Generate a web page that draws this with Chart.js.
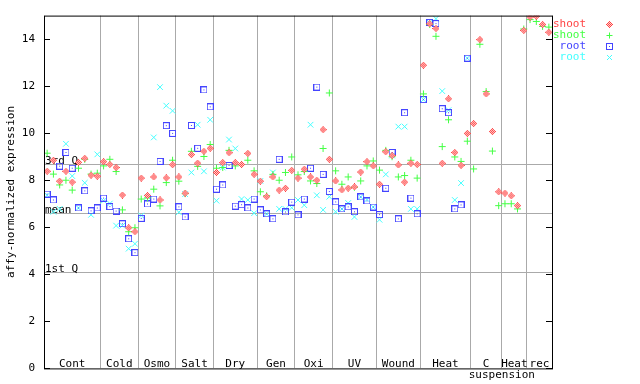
<!DOCTYPE html>
<html>
<head>
<meta charset="utf-8">
<title>affy-normalized expression</title>
<script src="https://cdn.jsdelivr.net/npm/chart.js@4.4.1/dist/chart.umd.min.js"></script>
<style>
html, body { margin: 0; padding: 0; background: #fff; }
#wrap { width: 640px; height: 384px; }
</style>
</head>
<body>
<div id="wrap"><canvas id="expression"></canvas></div>
<script>
// categories along x, number of samples in each
var categories = ["Cont", "Cold", "Osmo", "Salt", "Dry", "Gen", "Oxi", "UV", "Wound", "Heat", ["C", "suspension"], "Heat", "rec"];
var groupSizes = [9, 6, 6, 6, 7, 6, 6, 7, 7, 8, 5, 4, 4];

// one value per sample, in category order
var shootRed = [
  8.38, 8.85, 7.96, 8.38, 7.92, 8.76, 8.93, 8.21, 8.17,   // Cont
  8.79, 8.67, 8.54, 7.37, 5.98, 5.81,                     // Cold
  8.09, 7.35, 8.14, 7.16, 8.10, 8.66,                     // Osmo
  8.14, 7.45, 9.09, 8.73, 9.23, 9.36,                     // Salt
  8.33, 8.75, 9.17, 8.75, 8.67, 9.14, 8.25,               // Dry
  7.96, 7.30, 8.14, 7.58, 7.66, 8.42,                     // Gen
  8.09, 8.47, 8.14, 8.00, 10.15, 8.89,                    // Oxi
  7.97, 7.59, 7.66, 7.72, 8.35, 8.79, 8.61,               // UV
  7.83, 9.21, 9.05, 8.65, 7.92, 8.72, 8.67,               // Wound
  12.89, 14.65, 14.45, 8.72, 11.46, 9.18, 8.63, 9.99,     // Heat
  10.41, 13.98, 11.67, 10.07, 7.51,                       // C suspension
  7.45, 7.34, 6.92, 14.37,                                // Heat
  14.94, 14.97, 14.62, 14.29                              // rec
];
var shootGreen = [
  9.15, 8.26, 7.80, 8.00, 7.58, 8.51, 8.89, 8.26, 8.30,
  8.61, 8.89, 8.37, 6.74, 5.81, 5.98,
  7.20, 7.25, 7.62, 6.91, 7.90, 8.85,
  7.96, 7.43, 9.23, 8.59, 9.01, 9.52,
  8.51, 8.54, 9.27, 8.61, 8.67, 8.85, 8.40,
  7.51, 7.34, 8.25, 8.00, 8.33, 8.99,
  8.23, 8.37, 7.97, 7.86, 9.35, 11.71,
  8.40, 7.83, 8.14, 7.70, 7.97, 8.61, 8.82,
  8.43, 9.27, 9.00, 8.14, 8.20, 8.85, 8.09,
  11.67, 14.62, 14.12, 9.43, 10.57, 8.99, 8.80, 9.66,
  8.48, 13.78, 11.77, 9.24, 6.92,
  7.00, 7.00, 6.78, 14.43,
  14.83, 14.75, 14.54, 14.51
];
var rootBlue = [
  7.41, 7.16, 8.60, 9.18, 8.51, 6.82, 7.55, 6.70, 6.82,
  7.24, 6.88, 6.69, 6.15, 5.51, 4.92,
  6.38, 6.99, 7.20, 8.80, 10.32, 9.99,
  6.87, 6.44, 10.33, 9.36, 11.84, 11.12,
  7.62, 7.80, 8.63, 6.90, 6.96, 6.82, 7.20,
  6.74, 6.57, 6.36, 8.89, 6.65, 7.07,
  6.53, 7.20, 8.51, 11.96, 8.25, 7.52,
  7.08, 6.78, 6.87, 6.66, 7.29, 7.12, 6.86,
  6.54, 7.66, 9.18, 6.36, 10.87, 7.24, 6.57,
  11.43, 14.71, 14.66, 11.04, 10.87, 6.78, 6.95, 13.19,
  null, null, null, null, null,
  null, null, null, null,
  null, null, null, null
];
var rootCyan = [
  7.36, 6.66, 6.78, 9.55, 8.18, 6.82, 7.89, 6.53, 9.10,
  7.13, 7.01, 6.07, 6.07, 5.09, 5.30,
  6.50, 7.30, 9.82, 11.96, 11.17, 10.95,
  6.64, 7.41, 8.33, 10.36, 8.38, 10.57,
  7.13, 8.54, 9.73, 9.35, 7.20, 7.16, 6.60,
  7.97, 6.57, 8.33, 6.78, 6.78, 6.83,
  7.16, 6.94, 10.36, 7.36, 6.74, 7.30,
  6.66, 6.78, 7.03, 6.44, 7.29, 7.18, 6.86,
  6.32, 8.25, 9.05, 10.28, 10.28, 6.78, 6.78,
  11.43, 14.70, 14.87, 11.79, 10.98, 7.16, 7.88, 13.19,
  null, null, null, null, null,
  null, null, null, null,
  null, null, null, null
];

var seriesNames = ["shoot", "shoot", "root", "root"];
var quartileValues = [8.69, 6.62, 4.09];
var quartileNames = ["3rd Q", "mean", "1st Q"];
var yTicks = [0, 2, 4, 6, 8, 10, 12, 14];

var FONT = "11px 'DejaVu Sans Mono', monospace";
var RED = "#ff4444", GREEN = "#44ff44", BLUE = "#4444ff", CYAN = "#44ffff";

var bounds = [0];
groupSizes.forEach(function (n) { bounds.push(bounds[bounds.length - 1] + n); });
var nSamples = bounds[bounds.length - 1];

function toPoints(values) {
  var out = [];
  values.forEach(function (v, i) { if (v != null) out.push({ x: i + 0.5, y: v }); });
  return out;
}

// little pixel markers like the original: checkered diamond and dotted square
function markerCanvas(kind, color, fill) {
  var c = document.createElement("canvas");
  c.width = 7; c.height = 7;
  var g = c.getContext("2d");
  for (var py = 0; py < 7; py++) {
    for (var px = 0; px < 7; px++) {
      var dx = px - 3, dy = py - 3, col = null;
      if (kind === "diamond") {
        var d = Math.abs(dx) + Math.abs(dy);
        if (d <= 3) col = ((dx + dy) & 1) ? color : fill;
      } else {
        if (Math.abs(dx) === 3 || Math.abs(dy) === 3 || (dx === 0 && dy === 0)) col = color;
      }
      if (col) { g.fillStyle = col; g.fillRect(px, py, 1, 1); }
    }
  }
  return c;
}
var diamondImg = markerCanvas("diamond", RED, "#ffd0d0");
var squareImg = markerCanvas("square", BLUE);

function drawCross(ctx, x, y, r, rot, color) {
  ctx.save();
  ctx.strokeStyle = color;
  ctx.lineWidth = 1;
  ctx.beginPath();
  if (rot) {
    ctx.moveTo(x - r, y - r); ctx.lineTo(x + r, y + r);
    ctx.moveTo(x - r, y + r); ctx.lineTo(x + r, y - r);
  } else {
    ctx.moveTo(x - r, y); ctx.lineTo(x + r, y);
    ctx.moveTo(x, y - r); ctx.lineTo(x, y + r);
  }
  ctx.stroke();
  ctx.restore();
}

var decorations = {
  id: "decorations",
  beforeDatasetsDraw: function (chart) {
    var ctx = chart.ctx, a = chart.chartArea, ys = chart.scales.y;
    ctx.save();
    ctx.strokeStyle = "#aaaaaa";
    ctx.lineWidth = 1;
    ctx.font = FONT;
    ctx.fillStyle = "#000";
    ctx.textAlign = "left";
    ctx.textBaseline = "alphabetic";
    quartileValues.forEach(function (v, i) {
      var py = Math.round(ys.getPixelForValue(v)) + 0.5;
      ctx.beginPath();
      ctx.moveTo(a.left, py);
      ctx.lineTo(a.right, py);
      ctx.stroke();
      ctx.fillText(quartileNames[i], a.left + 1, py - 1);
    });
    ctx.restore();
  },
  afterDatasetsDraw: function (chart) {
    var ctx = chart.ctx, a = chart.chartArea, xs = chart.scales.x, ys = chart.scales.y;
    ctx.save();
    // frame
    ctx.strokeStyle = "#000";
    ctx.lineWidth = 1;
    ctx.strokeRect(a.left + 0.5, a.top + 0.5, a.right - a.left, a.bottom - a.top);
    // inward tick marks on both sides
    ctx.beginPath();
    yTicks.forEach(function (v) {
      var py = Math.round(ys.getPixelForValue(v)) + 0.5;
      ctx.moveTo(a.left, py); ctx.lineTo(a.left + 6, py);
      ctx.moveTo(a.right - 6, py); ctx.lineTo(a.right + 1, py);
    });
    ctx.stroke();
    // category names just above the bottom axis
    ctx.font = FONT;
    ctx.fillStyle = "#000";
    ctx.textAlign = "center";
    ctx.textBaseline = "alphabetic";
    categories.forEach(function (name, i) {
      var cx = (xs.getPixelForValue(bounds[i]) + xs.getPixelForValue(bounds[i + 1])) / 2;
      if (Array.isArray(name)) {
        ctx.fillText(name[0], cx, a.bottom - 1);
        ctx.fillText(name[1], xs.getPixelForValue(bounds[i + 1]), a.bottom + 10);
      } else {
        ctx.fillText(name, cx, a.bottom - 1);
      }
    });
    // legend to the right
    var colors = [RED, GREEN, BLUE, CYAN];
    ctx.textAlign = "right";
    ctx.textBaseline = "middle";
    seriesNames.forEach(function (name, i) {
      var ly = 24 + i * 11;
      ctx.fillStyle = colors[i];
      ctx.fillText(name, 586, ly);
      if (i === 0) ctx.drawImage(diamondImg, 606, ly - 3);
      if (i === 1) drawCross(ctx, 609.5, ly + 0.5, 3, false, GREEN);
      if (i === 2) ctx.drawImage(squareImg, 606, ly - 3);
      if (i === 3) drawCross(ctx, 609.5, ly + 0.5, 2.5, true, CYAN);
    });
    ctx.restore();
  }
};

new Chart(document.getElementById("expression"), {
  type: "scatter",
  data: {
    datasets: [
      { label: seriesNames[0], data: toPoints(shootRed), pointStyle: diamondImg, borderColor: RED, backgroundColor: RED },
      { label: seriesNames[1], data: toPoints(shootGreen), pointStyle: "cross", pointRadius: 3.5, borderWidth: 1, borderColor: GREEN, backgroundColor: GREEN },
      { label: seriesNames[2], data: toPoints(rootBlue), pointStyle: squareImg, borderColor: BLUE, backgroundColor: BLUE },
      { label: seriesNames[3], data: toPoints(rootCyan), pointStyle: "crossRot", pointRadius: 4, borderWidth: 1, borderColor: CYAN, backgroundColor: CYAN }
    ]
  },
  options: {
    responsive: true,
    maintainAspectRatio: false,
    devicePixelRatio: 1,
    animation: false,
    events: [],
    layout: { padding: { top: 13, right: 88, left: 0, bottom: 0 } },
    plugins: { legend: { display: false }, tooltip: { enabled: false } },
    scales: {
      x: {
        type: "linear",
        min: 0,
        max: nSamples,
        afterBuildTicks: function (scale) {
          scale.ticks = bounds.map(function (b) { return { value: b }; });
        },
        afterFit: function (scale) { scale.height = 15; },
        ticks: { display: false },
        grid: { color: "#aaaaaa", drawTicks: false },
        border: { display: false }
      },
      y: {
        min: 0,
        max: 15,
        afterFit: function (scale) { scale.width = 44; },
        ticks: {
          stepSize: 2,
          includeBounds: false,
          padding: 9,
          color: "#000",
          font: { family: "'DejaVu Sans Mono', monospace", size: 11 }
        },
        grid: { display: false, drawTicks: false },
        border: { display: false },
        title: {
          display: true,
          text: "affy-normalized expression",
          color: "#000",
          padding: { top: 5, bottom: 0 },
          font: { family: "'DejaVu Sans Mono', monospace", size: 11 }
        }
      }
    }
  },
  plugins: [decorations]
});
</script>
</body>
</html>
